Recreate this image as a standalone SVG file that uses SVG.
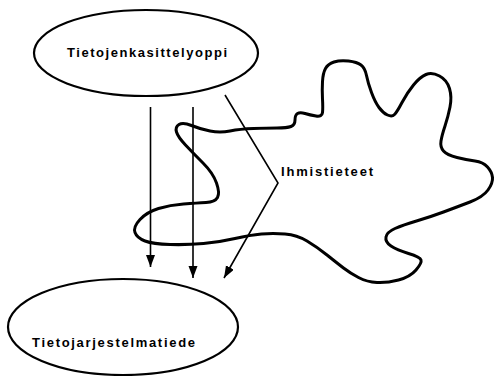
<svg xmlns="http://www.w3.org/2000/svg" width="495" height="376" viewBox="0 0 495 376">
<style>
.bg{fill:#fff}
.ell{fill:none;stroke:#000;stroke-width:2.2}
.blob{fill:none;stroke:#000;stroke-width:3;stroke-linejoin:round}
.ln{fill:none;stroke:#000;stroke-width:1.6}
.lbl{font-family:"Liberation Sans",Arial,sans-serif;font-size:13px;font-weight:bold;fill:#000}
</style>
<defs>
<marker id="ah" markerUnits="userSpaceOnUse" markerWidth="14" markerHeight="10" refX="12" refY="4.5" orient="auto">
<path d="M0,0 L12,4.5 L0,9 Z" fill="#000"/>
</marker>
</defs>
<rect class="bg" width="495" height="376"/>
<g id="ihmistieteet">
<path class="blob" d="M253.5,128.5 Q240,129 230,131 Q220,133 210,131 Q200,129 191.5,125.5 Q183,122 179,124.5 Q175,127 176.5,132 Q178,137 185.5,145 Q193,153 203,163 Q213,173 216.5,183 Q220,193 217.5,197.5 Q215,202 206,202.5 Q197,203 183.5,204 Q170,205 158.5,208.5 Q147,212 140,219.5 Q133,227 135,232.5 Q137,238 145,241 Q153,244 170,244.5 Q187,245 203.5,243.5 Q220,242 235,238.5 Q250,235 261.5,234 Q273,233 285,234 Q297,235 307,241 Q317,247 327,255 Q337,263 343.5,268 Q350,273 358.5,277.5 Q367,282 377,282.5 Q387,283 398.5,280 Q410,277 416,270 Q422,263 421,260 Q420,257 408.5,253.5 Q397,250 391,246 Q385,242 386,237 Q387,232 395,228.5 Q403,225 416.5,221 Q430,217 443.5,212 Q457,207 470,202 Q483,197 488,190 Q493,183 492.5,177.5 Q492,172 487.5,167 Q483,162 475,161 Q467,160 457,157.5 Q447,155 443.5,151 Q440,147 441,141 Q442,135 445,126 Q448,117 450,107 Q452,97 449.5,88.5 Q447,80 439.5,76 Q432,72 426,74.5 Q420,77 413.5,85 Q407,93 402,102.5 Q397,112 394.5,114.5 Q392,117 387.5,115 Q383,113 379,107.5 Q375,102 371.5,92.5 Q368,83 366.5,75.5 Q365,68 361,65 Q357,62 348.5,61 Q340,60 334,62 Q328,64 325.5,68.5 Q323,73 322.5,81.5 Q322,90 322.5,99 Q323,108 322.5,112.5 Q322,117 316,116 Q310,115 305,113.5 Q300,112 297.5,113.5 Q295,115 295,120 Q295,125 291,126.5 Q287,128 277,128 Q267,128 253.5,128.5 Z"/>
<text class="lbl" x="281" y="176" textLength="92" lengthAdjust="spacing">Ihmistieteet</text>
</g>
<g id="tietojenkasittelyoppi">
<ellipse class="ell" cx="146" cy="53" rx="112" ry="43"/>
<text class="lbl" x="67" y="57" textLength="160" lengthAdjust="spacing">Tietojenkasittelyoppi</text>
</g>
<g id="tietojarjestelmatiede">
<ellipse class="ell" cx="123" cy="327" rx="115" ry="48"/>
<text class="lbl" x="32" y="347" textLength="163" lengthAdjust="spacing">Tietojarjestelmatiede</text>
</g>
<g id="connectors">
<line class="ln" x1="150.5" y1="107" x2="150.5" y2="267" marker-end="url(#ah)"/>
<line class="ln" x1="193" y1="107" x2="193" y2="278" marker-end="url(#ah)"/>
<polyline class="ln" points="225,95 278,183 224,278" marker-end="url(#ah)"/>
</g>
</svg>
